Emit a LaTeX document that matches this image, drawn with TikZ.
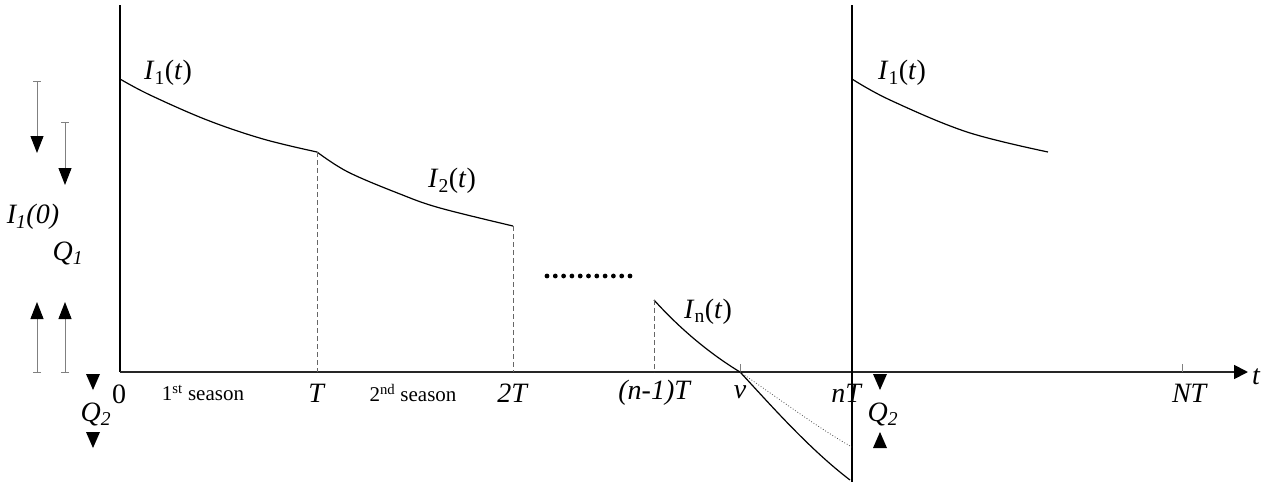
\documentclass[tikz,border=0pt]{standalone}
\usepackage{fontspec}
\setmainfont{Liberation Serif}
\usetikzlibrary{arrows.meta}
\begin{document}
\begin{tikzpicture}[x=1pt,y=-1pt,
  lbl/.style={inner sep=0pt, font=\fontsize{28}{30}\selectfont},
  small/.style={inner sep=0pt, font=\fontsize{21}{23}\selectfont},
  curve/.style={line width=1.2pt},
  dashline/.style={gray!80!black, line width=1pt, dash pattern=on 5pt off 3pt},
  qarrow/.style={gray, line width=1pt, {Bar[width=8pt,gray]}-{Triangle[width=13pt,length=17pt,black]}},
  tri/.style={fill=black, draw=none}]
\useasboundingbox (0,0) rectangle (1267,482);
% axes
\coordinate (O) at (120,372);
\coordinate (ytop) at (120,5);
\coordinate (xend) at (1248,372);
\draw[line width=1.3pt] (ytop) -- (O);
\draw[line width=1.8pt, gray!30!black, -{Triangle[width=14pt,length=14pt,black]}] (O) -- (xend);
\node[lbl, anchor=west] (tlab) at (1252,377) {\textit{t}};
% vertical line at nT
\coordinate (nTtop) at (852,5);
\coordinate (nTbot) at (852,482);
\draw[line width=1.1pt] (nTtop) -- (nTbot);
% ticks
\coordinate (NTa) at (1182,364);
\coordinate (NTb) at (1182,372);
\draw[gray, line width=0.8pt] (NTa) -- (NTb);
\coordinate (va) at (740,364);
\coordinate (vb) at (740,372);
\draw[gray, line width=0.8pt] (va) -- (vb);
% curves
\coordinate (A0) at (120,79);
\coordinate (A1) at (317,152);
\coordinate (A2) at (513,226);
\coordinate (Bn) at (654,300);
\coordinate (V) at (740,372);
\coordinate (Cend) at (850,480);
\coordinate (Dend) at (852,447);
\draw[curve] plot[smooth, tension=0.6] coordinates {(A0) (150,95) (207,120) (263,139) (A1)};
\draw[curve] plot[smooth, tension=0.6] coordinates {(A1) (348,172) (400,194) (440,208) (A2)};
\draw[curve] (Bn) .. controls (682,331) and (712,355) .. (V);
\draw[curve] (V) .. controls (768,402) and (808,448) .. (Cend);
\draw[gray!60!black, line width=0.8pt, dotted] (V) .. controls (778,398) and (818,428) .. (Dend);
\coordinate (R0) at (852,79);
\coordinate (R1) at (1048,152);
\draw[curve] plot[smooth, tension=0.6] coordinates {(R0) (890,100) (967,132) (R1)};
% dashed verticals
\coordinate (T0) at (317,372);
\coordinate (T2) at (513,372);
\coordinate (Tn) at (654,372);
\draw[dashline] (A1) -- (T0);
\draw[dashline] (A2) -- (T2);
\draw[dashline] (Bn) -- (Tn);
% dots
\foreach \i in {0,...,10} \fill (547+\i*8.3,276) circle (2.4pt);
% curve labels
\node[lbl] (l1) at (168,73) {\textit{I}\textsubscript{1}(\textit{t})};
\node[lbl] (l2) at (452,181) {\textit{I}\textsubscript{2}(\textit{t})};
\node[lbl] (ln) at (708,312) {\textit{I}\textsubscript{n}(\textit{t})};
\node[lbl] (l1r) at (902,73) {\textit{I}\textsubscript{1}(\textit{t})};
% axis labels
\node[lbl] (z) at (119,394) {0};
\node[small] (s1) at (203,393) {1\textsuperscript{st} season};
\node[lbl] (lT) at (317,393) {\textit{T}};
\node[small] (s2) at (413,393) {2\textsuperscript{nd} season};
\node[lbl] (l2T) at (513,393) {\textit{2T}};
\node[lbl] (lnm) at (655,393) {\textit{(n-1)T}};
\node[lbl] (lv) at (740,392) {\textit{v}};
\node[lbl] (lnT) at (847,393) {\textit{nT}};
\node[lbl] (lNT) at (1190,393) {\textit{NT}};
% left arrows
\coordinate (a1s) at (37,81);
\coordinate (a1e) at (37,153);
\coordinate (a2s) at (65,122);
\coordinate (a2e) at (65,185);
\coordinate (a3s) at (37,373);
\coordinate (a3e) at (37,302);
\coordinate (a4s) at (65,373);
\coordinate (a4e) at (65,302);
\draw[qarrow] (a1s) -- (a1e);
\draw[qarrow] (a2s) -- (a2e);
\draw[qarrow] (a3s) -- (a3e);
\draw[qarrow] (a4s) -- (a4e);
\node[lbl] (I10) at (33,217) {\textit{I\textsubscript{1}(0)}};
\node[lbl] (Q1) at (68,253) {\textit{Q\textsubscript{1}}};
% Q2 left
\fill[tri] (86,374) -- (100,374) -- (93,390) -- cycle;
\node[lbl] (Q2l) at (96,414) {\textit{Q\textsubscript{2}}};
\fill[tri] (86,432) -- (100,432) -- (93,448) -- cycle;
% Q2 right
\fill[tri] (873,374) -- (887,374) -- (880,390) -- cycle;
\node[lbl] (Q2r) at (883,414) {\textit{Q\textsubscript{2}}};
\fill[tri] (873,448) -- (887,448) -- (880,432) -- cycle;
\end{tikzpicture}
\end{document}
